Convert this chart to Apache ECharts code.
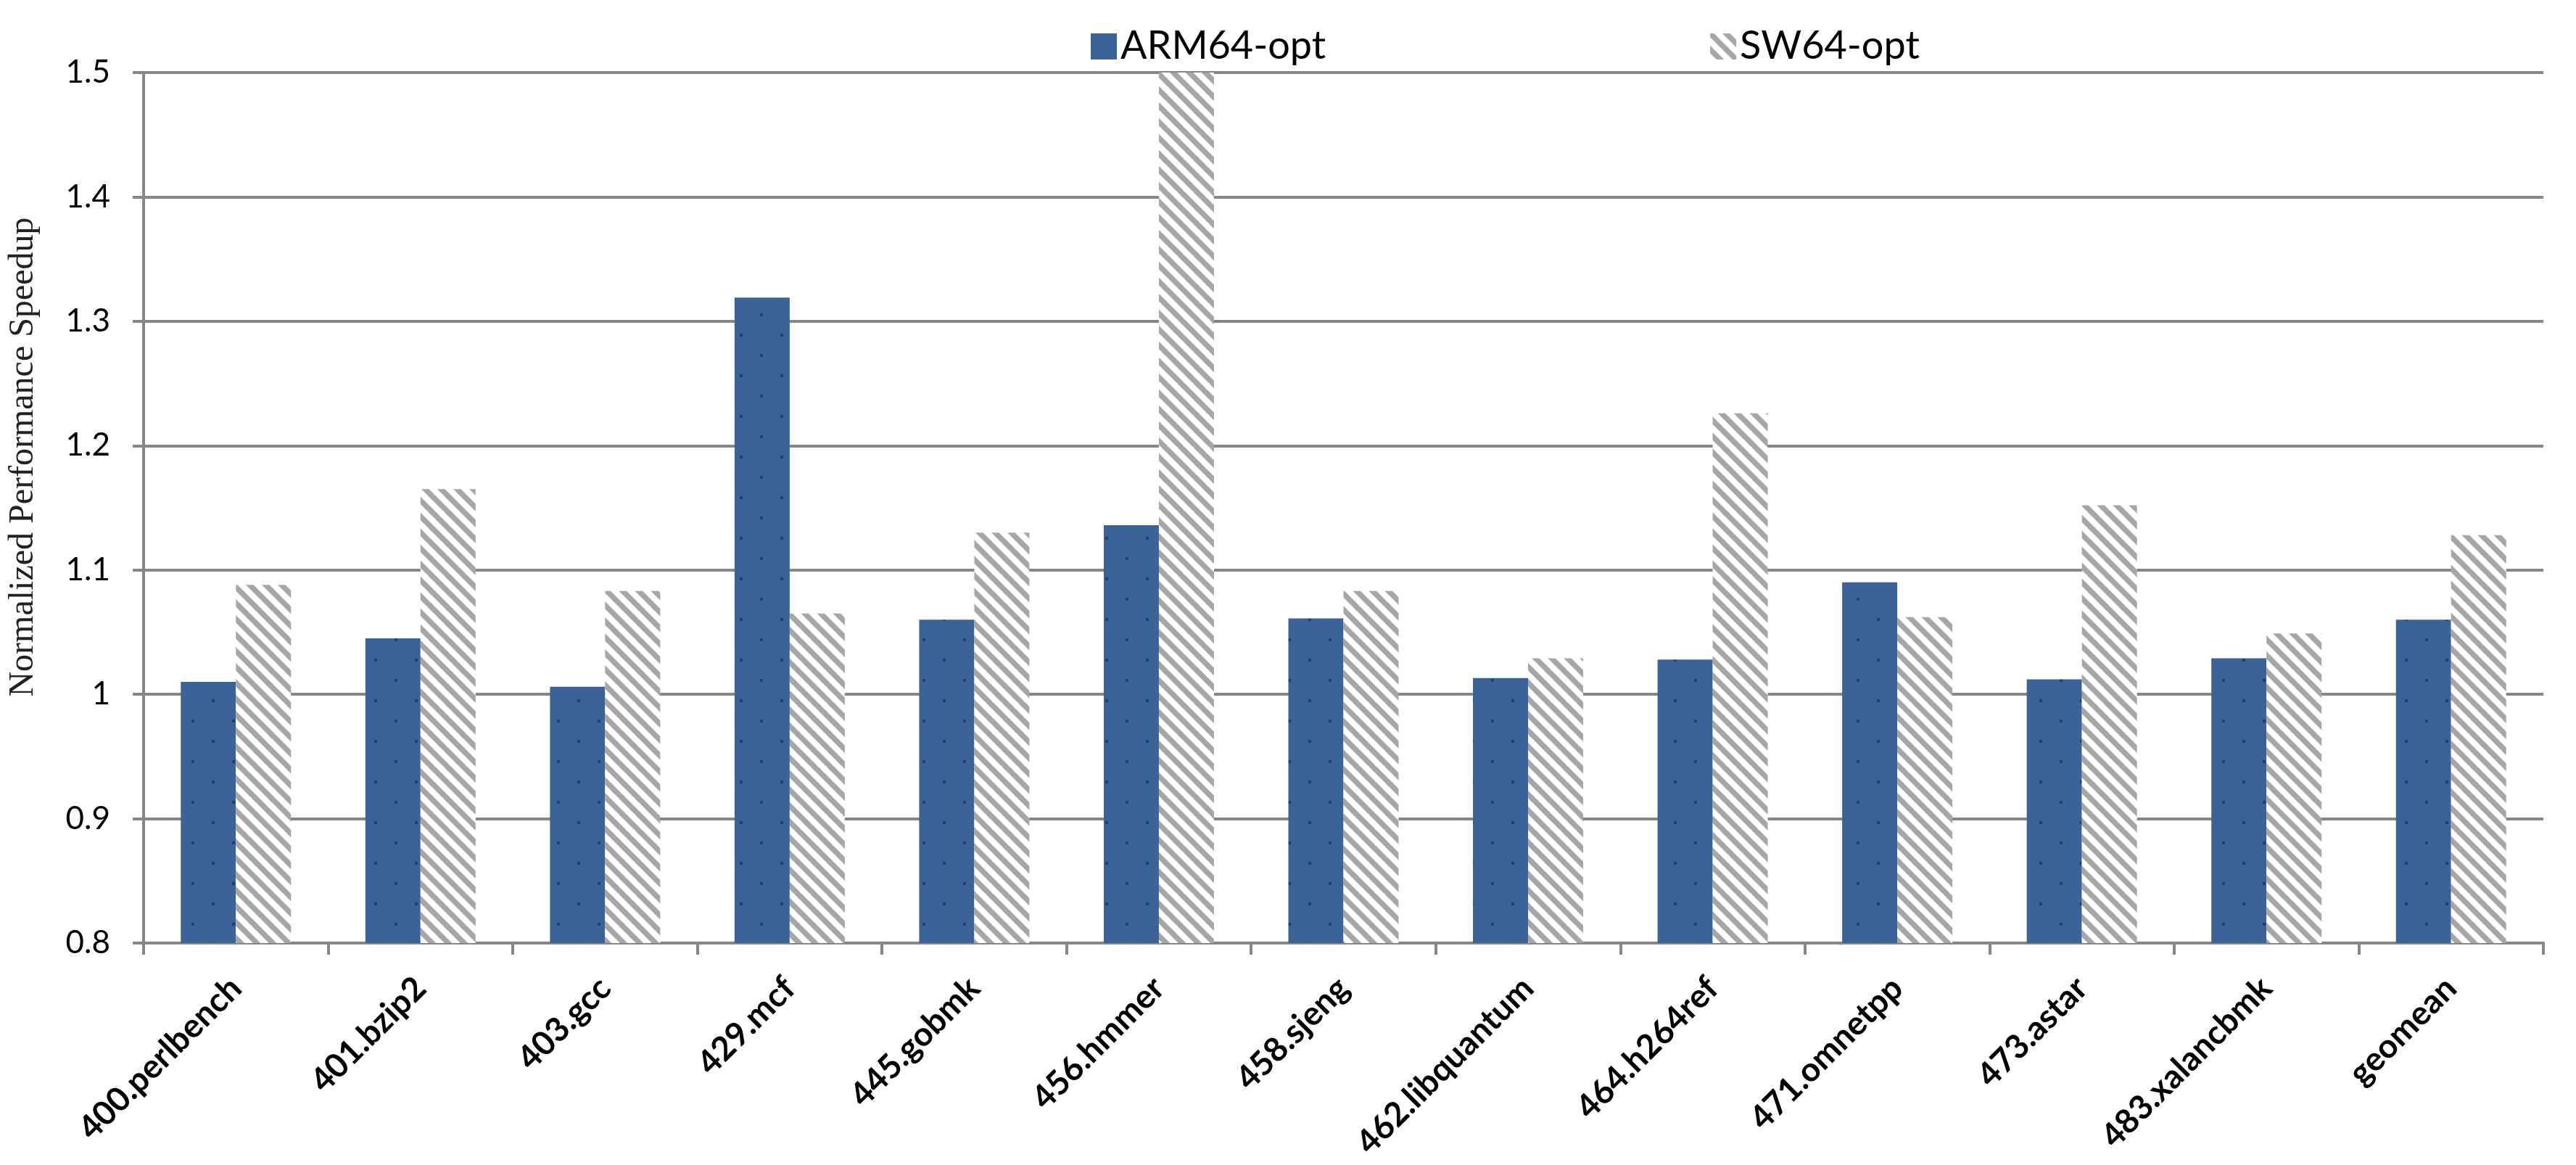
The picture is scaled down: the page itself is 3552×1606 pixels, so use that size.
<!DOCTYPE html>
<html>
<head>
<meta charset="utf-8">
<script src="https://cdn.jsdelivr.net/npm/echarts@6/dist/echarts.min.js"></script>
<style>
html,body{margin:0;padding:0;background:#fff;}
#chart{width:3552px;height:1606px;}
</style>
</head>
<body>
<div id="chart"></div>
<script>
// ---- data ----
const categories = ['400.perlbench','401.bzip2','403.gcc','429.mcf','445.gobmk','456.hmmer','458.sjeng','462.libquantum','464.h264ref','471.omnetpp','473.astar','483.xalancbmk','geomean'];
const seriesNames = ['ARM64-opt','SW64-opt'];
const arm64 = [1.010, 1.045, 1.006, 1.319, 1.060, 1.136, 1.061, 1.013, 1.028, 1.090, 1.012, 1.029, 1.060];
const sw64  = [1.088, 1.165, 1.083, 1.065, 1.130, 1.500, 1.083, 1.029, 1.226, 1.062, 1.152, 1.049, 1.128];
const yTicks = {min: 0.8, max: 1.5, interval: 0.1};

// ---- patterns ----
const BLUE = '#3B6397';
function dotPattern(){
  const c = document.createElement('canvas');
  c.width = 56; c.height = 56;
  const g = c.getContext('2d');
  g.fillStyle = BLUE; g.fillRect(0,0,56,56);
  g.fillStyle = '#22406A';
  [[14,14],[42,42]].forEach(p=>{ g.beginPath(); g.arc(p[0],p[1],2.4,0,Math.PI*2); g.fill(); });
  return c;
}
function stripePattern(){
  const T = 22;
  const c = document.createElement('canvas');
  c.width = T; c.height = T;
  const g = c.getContext('2d');
  g.fillStyle = '#ffffff'; g.fillRect(0,0,T,T);
  g.strokeStyle = '#A6A6A6'; g.lineWidth = 7.5;
  for (const off of [-T, 0, T]) {
    g.beginPath(); g.moveTo(off - 2, -2); g.lineTo(off + T + 2, T + 2); g.stroke();
  }
  return c;
}

const chart = echarts.init(document.getElementById('chart'), null, {renderer:'canvas'});
const GRAY = '#868686';
chart.setOption({
  backgroundColor: '#ffffff',
  animation: false,
  legend: {
    left: 1499, top: 32,
    itemWidth: 36, itemHeight: 36, itemGap: 530,
    textStyle: {fontFamily: 'Lato', fontSize: 54, color: '#000'},
    data: [
      {name: seriesNames[0], icon: 'rect', itemStyle: {color: BLUE}},
      {name: seriesNames[1], icon: 'rect'}
    ]
  },
  grid: {left: 192, right: 45, top: 100, bottom: 306, containLabel: false},
  xAxis: {
    type: 'category',
    data: categories,
    boundaryGap: true,
    axisLine: {lineStyle: {color: GRAY, width: 4}},
    axisTick: {show: true, length: 16, lineStyle: {color: GRAY, width: 4}},
    axisLabel: {rotate: 45, margin: 55, interval: 0, fontFamily: 'Lato', fontWeight: 'bold', fontSize: 46, color: '#000'}
  },
  yAxis: {
    type: 'value',
    min: yTicks.min, max: yTicks.max, interval: yTicks.interval,
    name: 'Normalized Performance Speedup',
    nameLocation: 'middle',
    nameGap: 142,
    nameRotate: 90,
    nameTextStyle: {fontFamily: 'Liberation Serif', fontSize: 48, color: '#222', padding: [0, 0, 0, 140]},
    axisLine: {show: true, lineStyle: {color: GRAY, width: 4}},
    axisTick: {show: true, length: 15, lineStyle: {color: GRAY, width: 4}},
    splitLine: {show: true, lineStyle: {color: GRAY, width: 4}},
    axisLabel: {margin: 46, fontFamily: 'Lato', fontSize: 44, color: '#000',
      formatter: v => String(Math.round(v * 10) / 10)}
  },
  series: [
    {name: seriesNames[0], type: 'bar', data: arm64, barWidth: 76, barGap: '0%',
     itemStyle: {color: {image: dotPattern(), repeat: 'repeat'}}},
    {name: seriesNames[1], type: 'bar', data: sw64, barWidth: 76, barGap: '0%',
     itemStyle: {color: {image: stripePattern(), repeat: 'repeat'}}}
  ]
});
</script>
</body>
</html>
